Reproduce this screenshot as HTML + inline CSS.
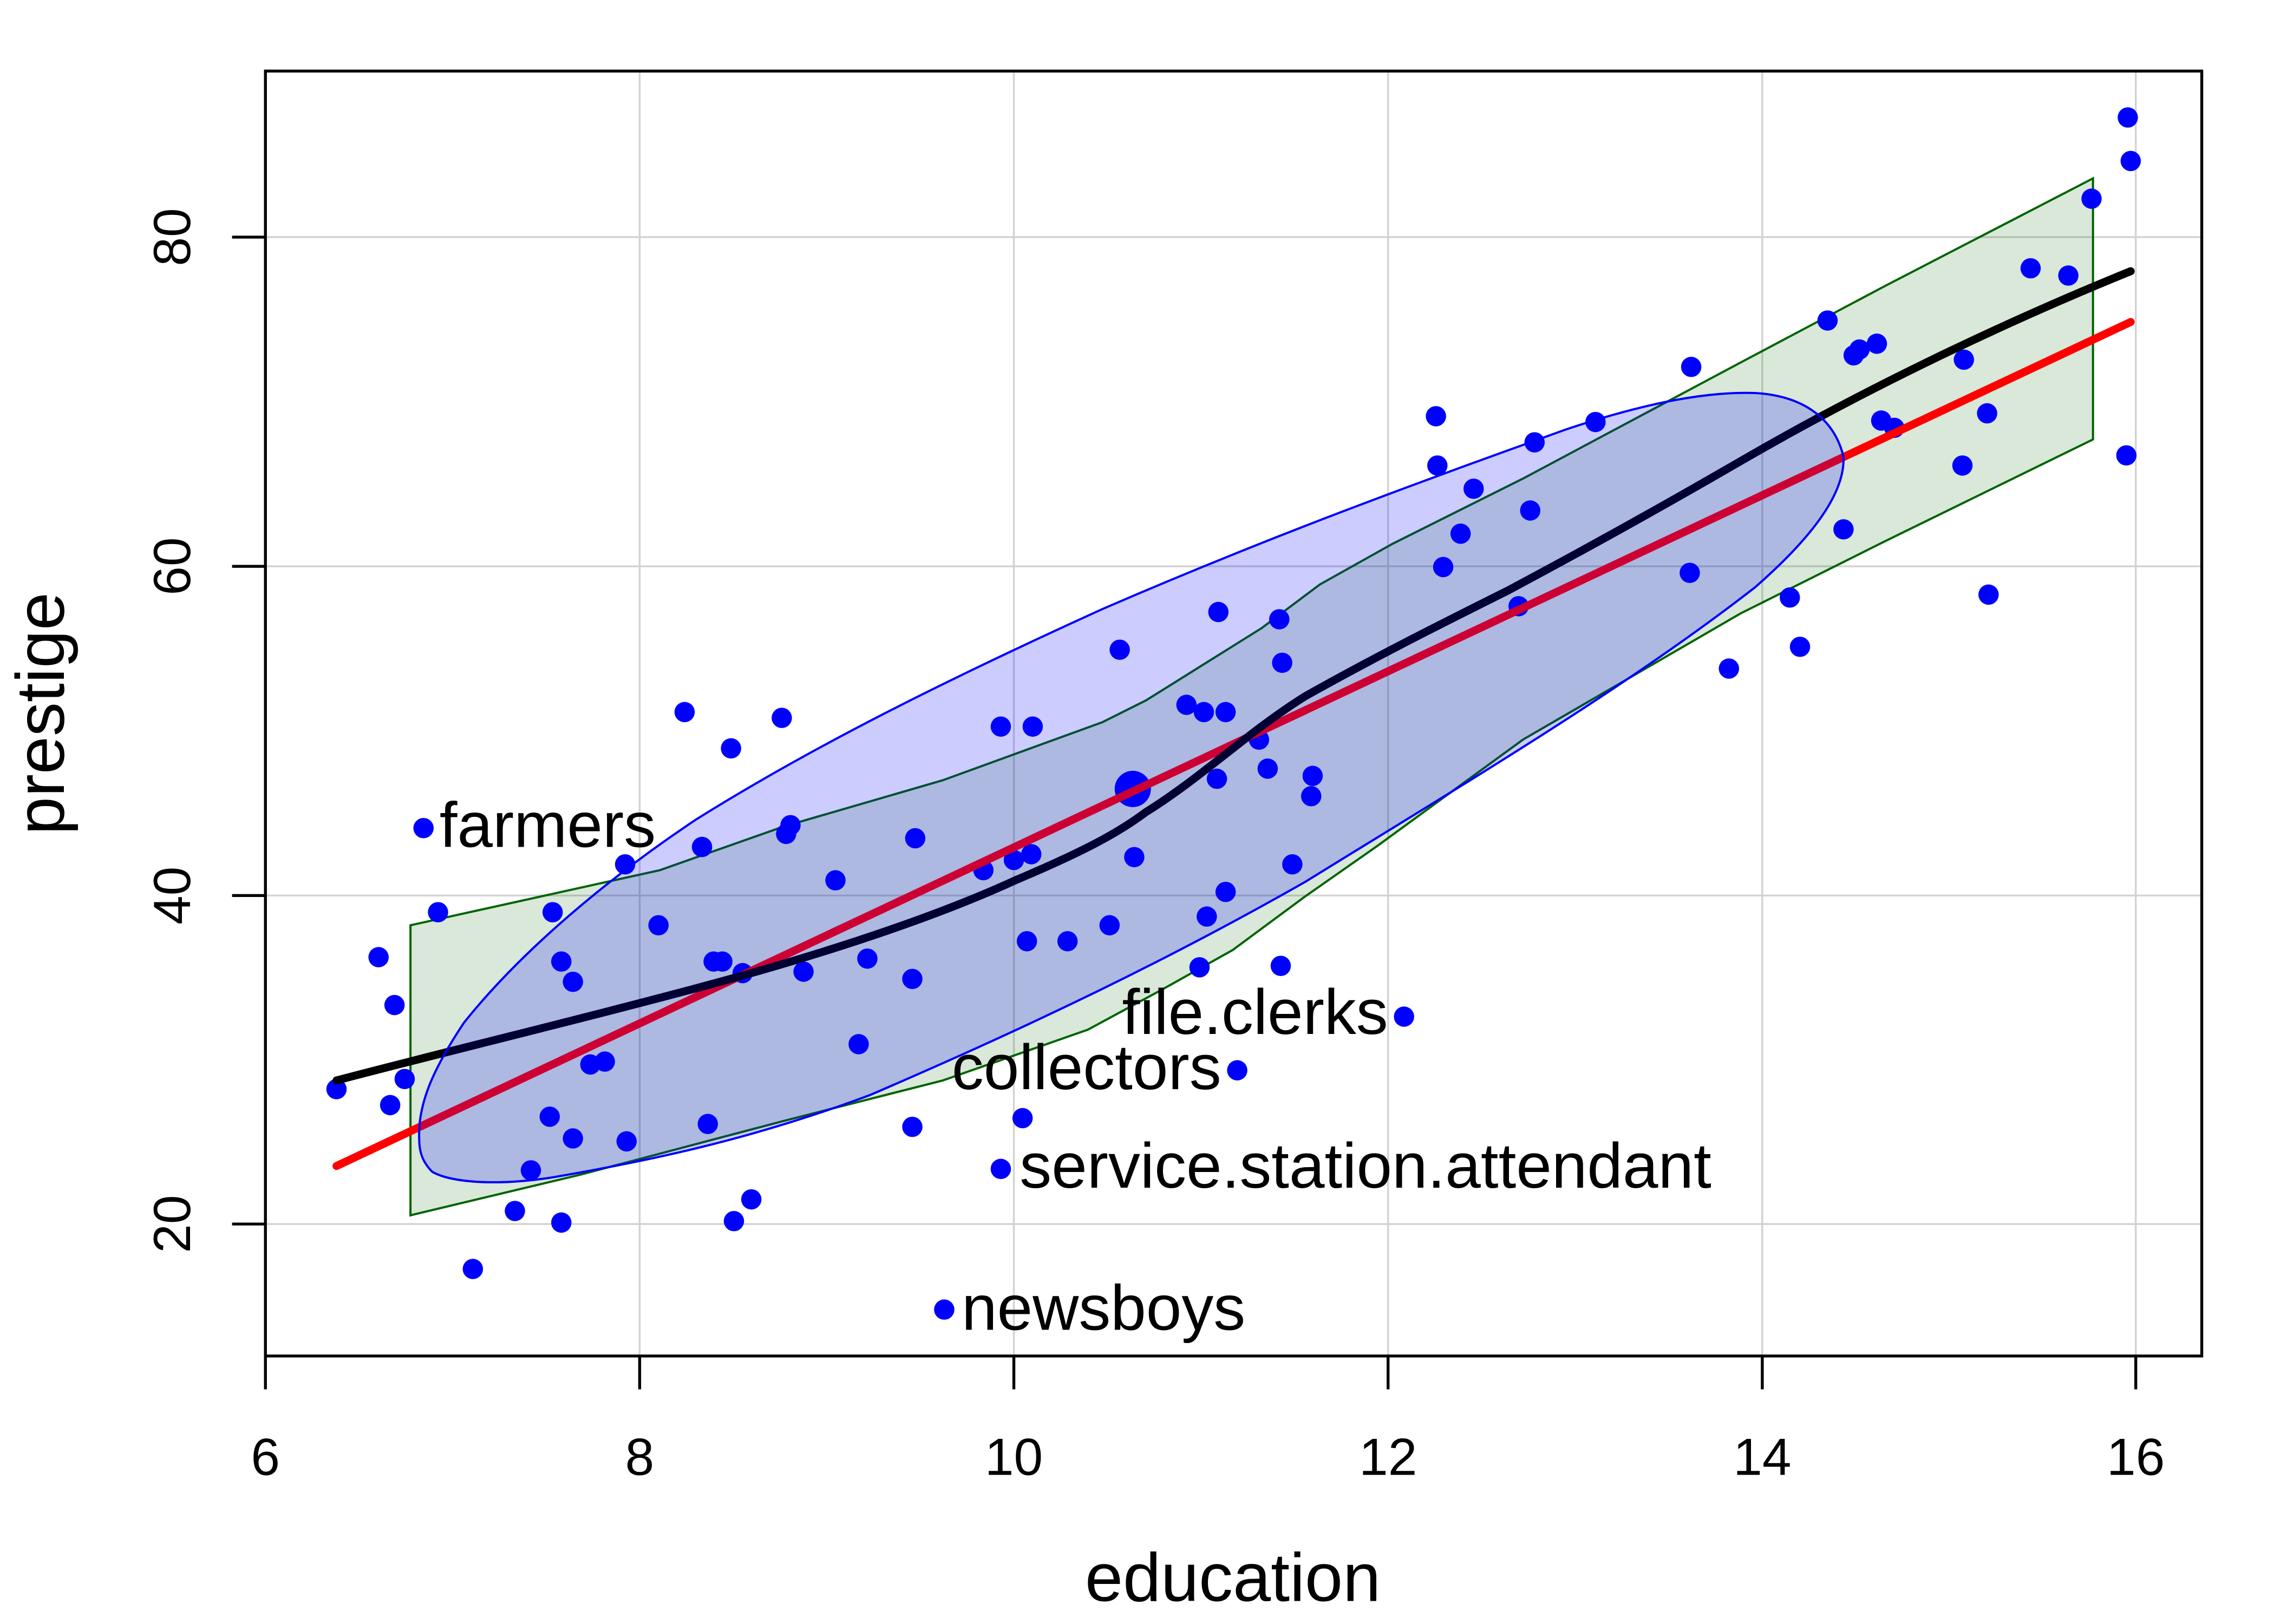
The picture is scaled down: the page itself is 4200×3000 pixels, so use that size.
<!DOCTYPE html>
<html><head><meta charset="utf-8"><style>html,body{margin:0;padding:0;background:#fff}svg{display:block}</style></head>
<body>
<svg width="4200" height="3000" viewBox="0 0 1567.8 1119.8" preserveAspectRatio="none" xmlns="http://www.w3.org/2000/svg" font-family="Liberation Sans, sans-serif">
<rect width="1567.8" height="1119.8" fill="#fff"/>
<g stroke="#d3d3d3" stroke-width="1.3">
<line x1="183" y1="49" x2="183" y2="935"/><line x1="441" y1="49" x2="441" y2="935"/><line x1="699" y1="49" x2="699" y2="935"/><line x1="957" y1="49" x2="957" y2="935"/><line x1="1215" y1="49" x2="1215" y2="935"/><line x1="1472.5" y1="49" x2="1472.5" y2="935"/>
<line x1="183" y1="163.5" x2="1518" y2="163.5"/><line x1="183" y1="390.5" x2="1518" y2="390.5"/><line x1="183" y1="617.5" x2="1518" y2="617.5"/><line x1="183" y1="844" x2="1518" y2="844"/>
</g>
<polygon points="283,638 455,600 540,570 650,538 760,498 790,483 830,458 870,433 910,403 960,375 1050,330 1200,250 1300,197 1443,123 1443,303 1300,373 1200,423 1050,510 950,583 900,618 850,655 800,683 750,710 650,745 540,773 400,810 283,838" fill="rgba(0,100,0,0.15)" stroke="#006400" stroke-width="1.5"/>
<g fill="#0000ff">
<circle cx="232" cy="751" r="7"/><circle cx="261" cy="660" r="7"/><circle cx="272" cy="693" r="7"/><circle cx="269" cy="762" r="7"/><circle cx="279" cy="744" r="7"/><circle cx="292" cy="571" r="7"/><circle cx="302" cy="629" r="7"/><circle cx="355" cy="835" r="7"/><circle cx="326" cy="875" r="7"/><circle cx="366" cy="807" r="7"/><circle cx="379" cy="770" r="7"/><circle cx="381" cy="629" r="7"/><circle cx="387" cy="663" r="7"/><circle cx="387" cy="843" r="7"/><circle cx="395" cy="677" r="7"/><circle cx="395" cy="785" r="7"/><circle cx="407" cy="734" r="7"/><circle cx="417" cy="732" r="7"/><circle cx="432" cy="787" r="7"/><circle cx="431" cy="596" r="7"/><circle cx="454" cy="638" r="7"/><circle cx="472" cy="491" r="7"/><circle cx="484" cy="584" r="7"/><circle cx="488" cy="775" r="7"/><circle cx="492" cy="663" r="7"/><circle cx="498" cy="663" r="7"/><circle cx="504" cy="516" r="7"/><circle cx="506" cy="842" r="7"/><circle cx="512" cy="671" r="7"/><circle cx="518" cy="827" r="7"/><circle cx="539" cy="495" r="7"/><circle cx="542" cy="575" r="7"/><circle cx="545" cy="569" r="7"/><circle cx="554" cy="670" r="7"/><circle cx="576" cy="607" r="7"/><circle cx="592" cy="720" r="7"/><circle cx="598" cy="661" r="7"/><circle cx="629" cy="777" r="7"/><circle cx="629" cy="675" r="7"/><circle cx="631" cy="578" r="7"/><circle cx="678" cy="600" r="7"/><circle cx="690" cy="501" r="7"/><circle cx="699" cy="593" r="7"/><circle cx="690" cy="806" r="7"/><circle cx="705" cy="771" r="7"/><circle cx="708" cy="649" r="7"/><circle cx="711" cy="589" r="7"/><circle cx="712" cy="501" r="7"/><circle cx="736" cy="649" r="7"/><circle cx="765" cy="638" r="7"/><circle cx="772" cy="448" r="7"/><circle cx="782" cy="591" r="7"/><circle cx="818" cy="486" r="7"/><circle cx="827" cy="667" r="7"/><circle cx="830" cy="491" r="7"/><circle cx="832" cy="632" r="7"/><circle cx="839" cy="537" r="7"/><circle cx="845" cy="491" r="7"/><circle cx="840" cy="422" r="7"/><circle cx="845" cy="615" r="7"/><circle cx="853" cy="738" r="7"/><circle cx="868" cy="510" r="7"/><circle cx="874" cy="530" r="7"/><circle cx="882" cy="427" r="7"/><circle cx="883" cy="666" r="7"/><circle cx="884" cy="457" r="7"/><circle cx="891" cy="596" r="7"/><circle cx="904" cy="549" r="7"/><circle cx="905" cy="535" r="7"/><circle cx="968" cy="701" r="7"/><circle cx="990" cy="287" r="7"/><circle cx="991" cy="321" r="7"/><circle cx="995" cy="391" r="7"/><circle cx="1007" cy="368" r="7"/><circle cx="1016" cy="337" r="7"/><circle cx="1047" cy="418" r="7"/><circle cx="1055" cy="352" r="7"/><circle cx="1058" cy="305" r="7"/><circle cx="1100" cy="291" r="7"/><circle cx="1165" cy="395" r="7"/><circle cx="1166" cy="253" r="7"/><circle cx="1192" cy="461" r="7"/><circle cx="1234" cy="412" r="7"/><circle cx="1241" cy="446" r="7"/><circle cx="1260" cy="221" r="7"/><circle cx="1271" cy="365" r="7"/><circle cx="1278" cy="245" r="7"/><circle cx="1282" cy="241" r="7"/><circle cx="1294" cy="237" r="7"/><circle cx="1297" cy="290" r="7"/><circle cx="1306" cy="295" r="7"/><circle cx="1353" cy="321" r="7"/><circle cx="1354" cy="248" r="7"/><circle cx="1370" cy="285" r="7"/><circle cx="1371" cy="410" r="7"/><circle cx="1400" cy="185" r="7"/><circle cx="1426" cy="190" r="7"/><circle cx="1442" cy="137" r="7"/><circle cx="1466" cy="314" r="7"/><circle cx="1467" cy="81" r="7"/><circle cx="1469" cy="111" r="7"/><circle cx="651" cy="903" r="7"/>
<circle cx="781" cy="544" r="12.5"/>
</g>
<line x1="232" y1="804" x2="1469" y2="222" stroke="#ff0000" stroke-width="5.5" stroke-linecap="round"/>
<path d="M232,745 C300,727 420,698 500,676 C580,654 650,630 700,607 C745,588 770,575 790,560 C830,535 860,505 900,480 C950,452 990,432 1040,407 C1100,375 1150,347 1200,318 C1300,260 1400,215 1469,187" fill="none" stroke="#000" stroke-width="5.5" stroke-linecap="round"/>
<path d="M289,785 C288,760 300,735 320,705 C360,655 420,605 480,565 C560,515 650,470 760,420 C880,368 980,332 1080,296 C1140,276 1180,270 1210,271 C1245,273 1265,290 1271,315 C1272,340 1250,370 1210,405 C1120,475 1010,540 900,608 C800,665 700,712 600,755 C520,785 450,800 380,812 C340,818 310,815 298,808 C290,800 289,792 289,785 Z" fill="rgba(0,0,255,0.2)" stroke="#0000ff" stroke-width="1.5"/>
<rect x="183" y="49" width="1335" height="886" fill="none" stroke="#000" stroke-width="2"/>
<g stroke="#000" stroke-width="2">
<line x1="183" y1="935" x2="183" y2="958"/><line x1="441" y1="935" x2="441" y2="958"/><line x1="699" y1="935" x2="699" y2="958"/><line x1="957" y1="935" x2="957" y2="958"/><line x1="1215" y1="935" x2="1215" y2="958"/><line x1="1472.5" y1="935" x2="1472.5" y2="958"/>
<line x1="160" y1="163.5" x2="183" y2="163.5"/><line x1="160" y1="390.5" x2="183" y2="390.5"/><line x1="160" y1="617.5" x2="183" y2="617.5"/><line x1="160" y1="844" x2="183" y2="844"/>
</g>
<g font-size="36" text-anchor="middle" fill="#000">
<text x="183" y="1017">6</text><text x="441" y="1017">8</text><text x="699" y="1017">10</text><text x="957" y="1017">12</text><text x="1215" y="1017">14</text><text x="1472.5" y="1017">16</text>
<text transform="translate(131,163.5) rotate(-90)">80</text><text transform="translate(131,390.5) rotate(-90)">60</text><text transform="translate(131,617.5) rotate(-90)">40</text><text transform="translate(131,844) rotate(-90)">20</text>
</g>
<text x="850" y="1104" font-size="47" text-anchor="middle">education</text>
<text transform="translate(44,492) rotate(-90)" font-size="47" text-anchor="middle">prestige</text>
<g font-size="44" fill="#000">
<text x="303" y="584">farmers</text>
<text x="957" y="713" text-anchor="end">file.clerks</text>
<text x="842" y="751" text-anchor="end">collectors</text>
<text x="703" y="819">service.station.attendant</text>
<text x="663" y="917">newsboys</text>
</g>
</svg>
</body></html>
